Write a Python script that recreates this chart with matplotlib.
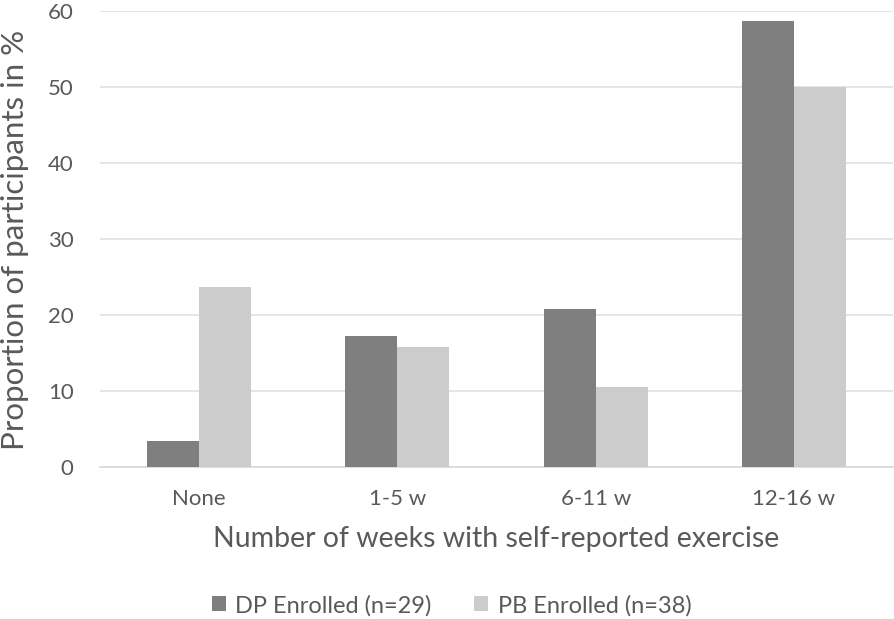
import numpy as np
import matplotlib.pyplot as plt

# data (% of participants)
categories = ["None", "1-5 w", "6-11 w", "12-16 w"]
dp_values = [3.4, 17.2, 20.7, 58.6]
pb_values = [23.7, 15.8, 10.5, 50.0]
dp_label = "DP Enrolled (n=29)"
pb_label = "PB Enrolled (n=38)"

plt.rcParams['font.family'] = ['Lato', 'DejaVu Sans']
txt = '#595959'

fig = plt.figure(figsize=(8.94, 6.19), dpi=100)
ax = fig.add_axes([0.1119, 0.2456, 0.887, 0.7374])

x = np.arange(len(categories))
w = 0.262
ax.bar(x - w/2, dp_values, w, color='#7f7f7f', label=dp_label, zorder=3)
ax.bar(x + w/2, pb_values, w, color='#cccccc', label=pb_label, zorder=3)

ax.set_xlim(-0.5, len(categories) - 0.5)
ax.set_ylim(0, 60)
ax.set_yticks(range(0, 61, 10))
ax.set_xticks(x)
ax.set_xticklabels(categories)
ax.yaxis.grid(True, color='#e0e0e0', linewidth=1.2, zorder=0)
ax.tick_params(axis='both', length=0, labelsize=16, colors=txt)
ax.tick_params(axis='x', pad=16)
ax.tick_params(axis='y', pad=19)
for s in ['top', 'right', 'left']:
    ax.spines[s].set_visible(False)
ax.spines['bottom'].set_color('#d9d9d9')
ax.spines['bottom'].set_linewidth(1.2)

ax.set_xlabel("Number of weeks with self-reported exercise", fontsize=20.5, color=txt, labelpad=12)
ax.set_ylabel("Proportion of participants in %", fontsize=22.5, color=txt)
ax.yaxis.set_label_coords(-0.089, 0.498)

fig.legend(loc='center', bbox_to_anchor=(0.505, 0.022), ncol=2, frameon=False,
           fontsize=17, labelcolor=txt, handlelength=0.6, handleheight=0.6,
           columnspacing=1.8, handletextpad=0.4)

plt.savefig("out.png", dpi=100)
